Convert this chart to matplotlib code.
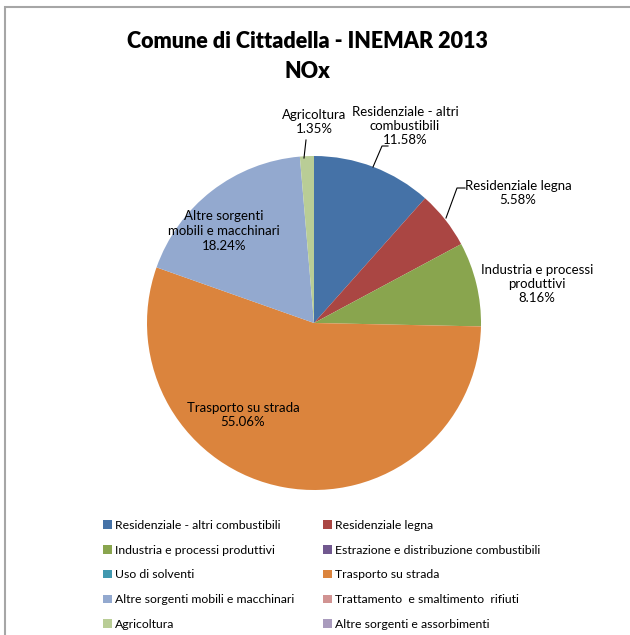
import matplotlib
matplotlib.use('Agg')
import matplotlib.pyplot as plt
from matplotlib.patches import Rectangle

plt.rcParams['font.family'] = ['Lato', 'DejaVu Sans']

# NOx share by source sector (percent)
sectors = [
    'Residenziale - altri combustibili',
    'Residenziale legna',
    'Industria e processi produttivi',
    'Estrazione e distribuzione combustibili',
    'Uso di solventi',
    'Trasporto su strada',
    'Altre sorgenti mobili e macchinari',
    'Trattamento  e smaltimento  rifiuti',
    'Agricoltura',
    'Altre sorgenti e assorbimenti',
]
shares = [11.58, 5.58, 8.16, 0.0, 0.0, 55.06, 18.24, 0.0, 1.35, 0.0]
colors = ['#4572A7', '#AA4643', '#89A54E', '#71588F', '#4198AF',
          '#DB843D', '#93A9CF', '#D19392', '#B9CD96', '#A99BBD']

# label text for the non-empty slices (as shown on chart)
label_text = {
    0: 'Residenziale - altri\ncombustibili\n11.58%',
    1: 'Residenziale legna\n5.58%',
    2: 'Industria e processi\nproduttivi\n8.16%',
    5: 'Trasporto su strada\n55.06%',
    6: 'Altre sorgenti\nmobili e macchinari\n18.24%',
    8: 'Agricoltura\n1.35%',
}

W, H = 630, 635
fig = plt.figure(figsize=(W / 100, H / 100), dpi=100)
ax = fig.add_axes([0, 0, 1, 1])

# chart frame (only top and left edges visible in the crop)
fig.patches.append(Rectangle((5 / W, -0.1), 1.2, (H - 7) / H + 0.1,
                             transform=fig.transFigure, fill=False,
                             edgecolor='#A6A6A6', linewidth=1.5))

cx, cy, r = 314, H - 323, 167
wedges, _ = ax.pie(shares, colors=colors, startangle=90, counterclock=False,
                   center=(cx, cy), radius=r, frame=True)
ax.set_xlim(0, W)
ax.set_ylim(0, H)
ax.set_aspect('equal')
ax.axis('off')

# label positions (pixel coords from top)
label_pos = {
    0: (405, 126),
    1: (518, 193),
    2: (537, 284),
    5: (243, 415),
    6: (224, 231),
    8: (314, 122),
}
for i, (x, y) in label_pos.items():
    ax.text(x, H - y, label_text[i], ha='center', va='center',
            fontsize=9.5, color='#000000', linespacing=1.25)

# leader lines
leaders = {
    0: [(388, 146), (382, 146), (373, 167)],
    1: [(465, 188), (457, 188), (446, 218)],
    8: [(306, 140), (304, 158)],
}
for pts in leaders.values():
    ax.plot([p[0] for p in pts], [H - p[1] for p in pts],
            color='#000000', linewidth=0.8)

ax.text(307, H - 42, 'Comune di Cittadella - INEMAR 2013', ha='center',
        va='center', fontsize=15.5, fontweight='heavy')
ax.text(307, H - 72, 'NOx', ha='center', va='center', fontsize=15.5,
        fontweight='heavy')

# legend: row-major order in two columns
order = [0, 2, 4, 6, 8, 1, 3, 5, 7, 9]
leg = ax.legend([wedges[i] for i in order], [sectors[i] for i in order],
                ncol=2, loc='upper left', bbox_to_anchor=(103 / W, 1 - 520 / H),
                bbox_transform=fig.transFigure, frameon=False,
                fontsize=8.8, handlelength=0.7, handleheight=0.7,
                handletextpad=0.25, labelspacing=1.12, columnspacing=2.4,
                borderaxespad=0, borderpad=0)

fig.savefig('out.png', dpi=100)
